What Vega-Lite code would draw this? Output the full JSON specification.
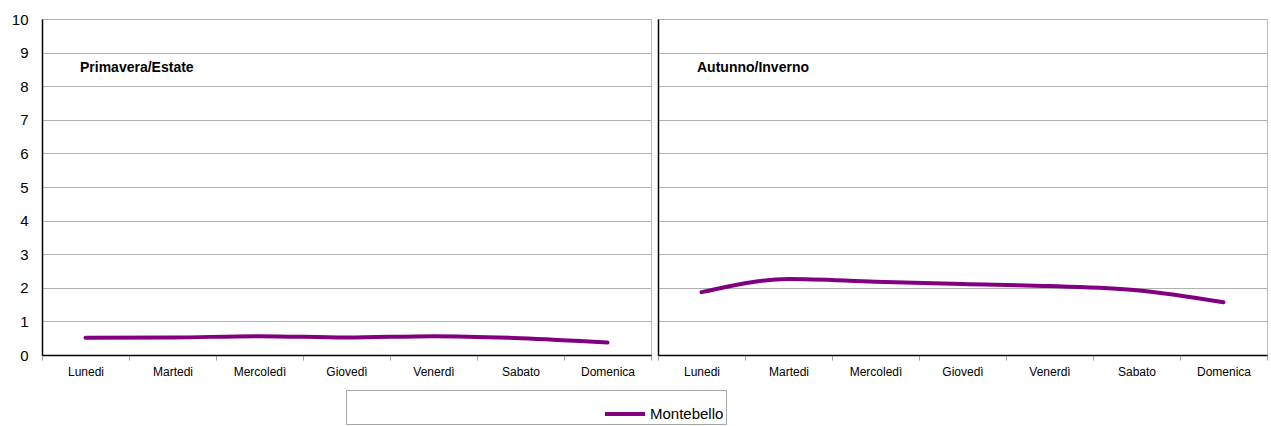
{
  "$schema": "https://vega.github.io/schema/vega-lite/v6.json",
  "background": "white",
  "padding": {"left": 10, "top": 11, "right": 0, "bottom": 0},
  "datasets": {
    "d": [
      {"stagione": "Primavera/Estate", "giorno": "Lunedi", "valore": 0.51, "serie": "Montebello"},
      {"stagione": "Primavera/Estate", "giorno": "Martedi", "valore": 0.52, "serie": "Montebello"},
      {"stagione": "Primavera/Estate", "giorno": "Mercoledì", "valore": 0.56, "serie": "Montebello"},
      {"stagione": "Primavera/Estate", "giorno": "Giovedì", "valore": 0.52, "serie": "Montebello"},
      {"stagione": "Primavera/Estate", "giorno": "Venerdì", "valore": 0.56, "serie": "Montebello"},
      {"stagione": "Primavera/Estate", "giorno": "Sabato", "valore": 0.5, "serie": "Montebello"},
      {"stagione": "Primavera/Estate", "giorno": "Domenica", "valore": 0.37, "serie": "Montebello"},
      {"stagione": "Autunno/Inverno", "giorno": "Lunedi", "valore": 1.87, "serie": "Montebello"},
      {"stagione": "Autunno/Inverno", "giorno": "Martedi", "valore": 2.26, "serie": "Montebello"},
      {"stagione": "Autunno/Inverno", "giorno": "Mercoledì", "valore": 2.18, "serie": "Montebello"},
      {"stagione": "Autunno/Inverno", "giorno": "Giovedì", "valore": 2.11, "serie": "Montebello"},
      {"stagione": "Autunno/Inverno", "giorno": "Venerdì", "valore": 2.05, "serie": "Montebello"},
      {"stagione": "Autunno/Inverno", "giorno": "Sabato", "valore": 1.93, "serie": "Montebello"},
      {"stagione": "Autunno/Inverno", "giorno": "Domenica", "valore": 1.57, "serie": "Montebello"}
    ]
  },
  "data": {"name": "d"},
  "spacing": 5,
  "hconcat": [
    {
      "width": 609,
      "height": 336,
      "title": {"text": "Primavera/Estate", "anchor": "start", "frame": "group", "offset": -63, "dx": 38},
      "transform": [{"filter": "datum.stagione === 'Primavera/Estate'"}],
      "mark": {"type": "line", "interpolate": "monotone", "strokeWidth": 4, "strokeCap": "round"},
      "encoding": {
        "x": {
          "field": "giorno", "type": "ordinal",
          "sort": ["Lunedi", "Martedi", "Mercoledì", "Giovedì", "Venerdì", "Sabato", "Domenica"],
          "scale": {"type": "band", "paddingInner": 0, "paddingOuter": 0},
          "axis": {"title": null}
        },
        "y": {
          "field": "valore", "type": "quantitative",
          "scale": {"domain": [0, 10], "nice": false},
          "axis": {"title": null, "values": [0,1,2,3,4,5,6,7,8,9,10], "labelFontSize": 15, "tickSize": 0, "labelPadding": 14}
        },
        "color": {
          "field": "serie", "type": "nominal",
          "scale": {"range": ["#800080"]},
          "legend": {
            "title": null,
            "orient": "none",
            "legendX": 304,
            "legendY": 371,
            "direction": "horizontal",
            "padding": 2,
            "symbolOffset": 255,
            "labelOffset": 3
          }
        }
      }
    },
    {
      "width": 609,
      "height": 336,
      "title": {"text": "Autunno/Inverno", "anchor": "start", "frame": "group", "offset": -56, "dx": 39},
      "transform": [{"filter": "datum.stagione === 'Autunno/Inverno'"}],
      "mark": {"type": "line", "interpolate": "monotone", "strokeWidth": 4, "strokeCap": "round"},
      "encoding": {
        "x": {
          "field": "giorno", "type": "ordinal",
          "sort": ["Lunedi", "Martedi", "Mercoledì", "Giovedì", "Venerdì", "Sabato", "Domenica"],
          "scale": {"type": "band", "paddingInner": 0, "paddingOuter": 0},
          "axis": {"title": null}
        },
        "y": {
          "field": "valore", "type": "quantitative",
          "scale": {"domain": [0, 10], "nice": false},
          "axis": {"title": null, "values": [0,1,2,3,4,5,6,7,8,9,10], "labels": false, "ticks": false}
        },
        "color": {
          "field": "serie", "type": "nominal",
          "scale": {"range": ["#800080"]}
        }
      }
    }
  ],
  "config": {
    "font": "Liberation Sans",
    "view": {"stroke": "#c0c0c0", "strokeWidth": 1},
    "title": {"fontSize": 14, "fontWeight": "bold", "color": "#000000", "font": "Liberation Sans", "baseline": "bottom"},
    "axis": {
      "domainColor": "#000000",
      "domainWidth": 1.5,
      "gridColor": "#b0b0b0",
      "gridWidth": 1,
      "labelColor": "#000000",
      "labelFont": "Liberation Sans"
    },
    "axisX": {
      "grid": false,
      "labelAngle": 0,
      "labelFontSize": 12,
      "tickBand": "extent",
      "tickColor": "#a0a0a0",
      "tickSize": 5,
      "labelPadding": 6
    },
    "axisY": {"grid": true},
    "legend": {
      "strokeColor": "#a6a6a6",
      "labelFontSize": 15,
      "labelColor": "#000000",
      "labelFont": "Liberation Sans",
      "symbolType": "stroke",
      "symbolStrokeWidth": 4,
      "symbolSize": 1600
    }
  }
}
